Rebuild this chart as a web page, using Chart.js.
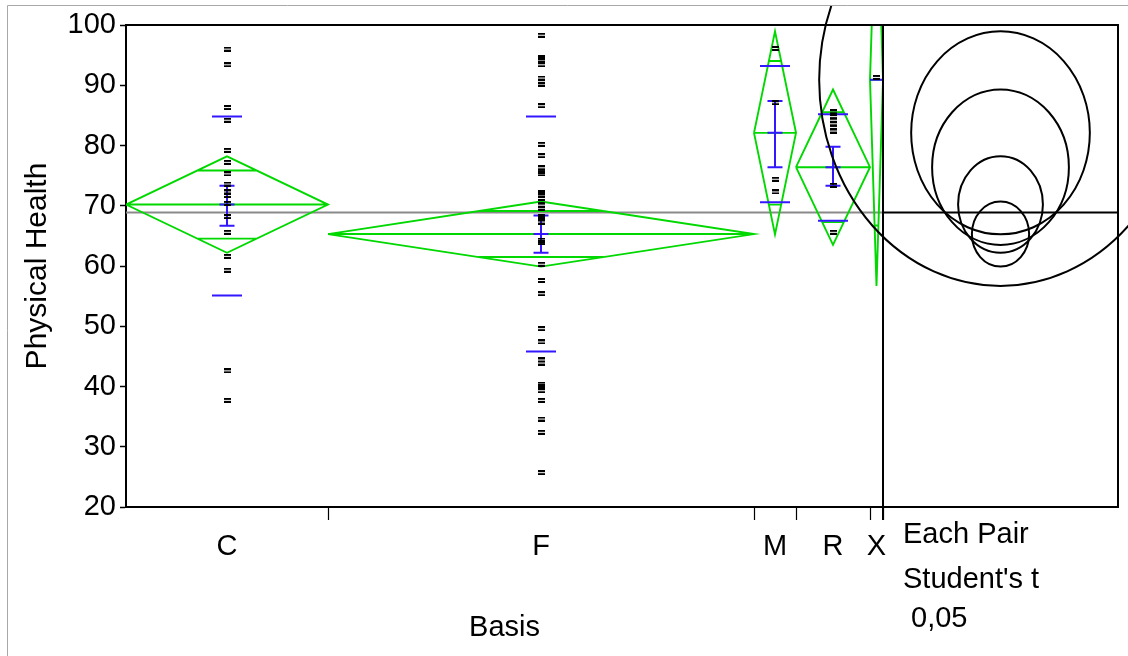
<!DOCTYPE html>
<html>
<head>
<meta charset="utf-8">
<script src="https://cdn.jsdelivr.net/npm/chart.js@4.4.1/dist/chart.umd.min.js"></script>
<style>
  html, body { margin: 0; padding: 0; background: #fff; }
  #wrap { width: 1128px; height: 656px; position: relative; }
</style>
</head>
<body>
<div id="wrap"><canvas id="chart"></canvas></div>
<script>
// Levels of Basis and the relative width of each level's band on the axis
const categories = ['C', 'F', 'M', 'R', 'X'];
const bandWidth = [202, 426, 42, 74, 13];

// Individual Physical Health scores per level
const valuesC = [96.0, 93.4, 86.3, 84.2, 79.2, 77.2, 75.3, 73.6, 72.3, 71.7, 70.4, 68.2, 65.6, 61.6, 59.3, 42.6, 37.7];
const valuesF = [98.3, 94.6, 94.2, 93.4, 91.2, 90.6, 90.2, 86.6, 80.2, 78.3, 76.3, 75.7, 75.3, 72.2, 71.8, 71.2,
                 70.7, 70.1, 69.6, 68.2, 67.9, 67.3, 64.3, 63.9, 60.3, 57.6, 55.4, 49.6, 47.4, 44.4, 43.9, 40.4,
                 40.0, 39.3, 37.7, 34.6, 32.4, 25.7];
const valuesM = [96.1, 87.1, 74.4, 72.3];
const valuesR = [85.6, 84.8, 84.2, 83.6, 83.0, 82.4, 73.4, 65.6];
const valuesX = [91.3];

// Group summaries: mean, 95% CI half width, std error bar ends, mean +/- 1 SD
const groupMean = [70.2, 65.3, 82.1, 76.4, 90.9];
const ciHalf = [8.0, 5.4, 16.85, 12.9, 34.2];
const stdErrLow = [66.7, 62.2, 76.4, 73.3, null];
const stdErrHigh = [73.3, 68.4, 87.4, 79.8, null];
const sdLow = [55.1, 45.8, 70.6, 67.5, null];
const sdHigh = [84.8, 84.8, 93.2, 85.2, null];
const grandMean = 68.9;

const yTicks = [20, 30, 40, 50, 60, 70, 80, 90, 100];
const panelText = ['Each Pair', "Student's t", ' 0,05'];

// ---- derived geometry on the Basis axis ----
const edges = [0];
bandWidth.forEach(w => edges.push(edges[edges.length - 1] + w));
const total = edges[edges.length - 1];
const centers = bandWidth.map((w, i) => edges[i] + w / 2);
const groupValues = [valuesC, valuesF, valuesM, valuesR, valuesX];

const GREEN = '#00d800';
const BLUE = '#3318ff';
const FONT = "'Liberation Sans', Arial, sans-serif";
const FS = 29;

const GAP = { x: null, y: null };
function segs(list) {
  const out = [];
  list.forEach((s, k) => { if (k) out.push(GAP); out.push(...s); });
  return out;
}

// Means diamonds with mean line and overlap marks
const greenSegs = [];
categories.forEach((c, i) => {
  const l = edges[i], r = edges[i + 1], cx = centers[i], m = groupMean[i], h = ciHalf[i];
  greenSegs.push([{x: l, y: m}, {x: cx, y: m + h}, {x: r, y: m}, {x: cx, y: m - h}, {x: l, y: m}]);
  greenSegs.push([{x: l, y: m}, {x: r, y: m}]);
  const k = 1 / Math.SQRT2, hw = (bandWidth[i] / 2) * (1 - k);
  greenSegs.push([{x: cx - hw, y: m + h * k}, {x: cx + hw, y: m + h * k}]);
  greenSegs.push([{x: cx - hw, y: m - h * k}, {x: cx + hw, y: m - h * k}]);
});

// Std dev lines, std error bars and mean ticks
const blueSegs = [];
categories.forEach((c, i) => {
  const cx = centers[i], m = groupMean[i];
  const capHalf = Math.min(7.5, bandWidth[i] / 2);
  if (sdHigh[i] !== null) {
    blueSegs.push([{x: cx - 15, y: sdHigh[i]}, {x: cx + 15, y: sdHigh[i]}]);
    blueSegs.push([{x: cx - 15, y: sdLow[i]}, {x: cx + 15, y: sdLow[i]}]);
  }
  if (stdErrHigh[i] !== null) {
    blueSegs.push([{x: cx, y: stdErrLow[i]}, {x: cx, y: stdErrHigh[i]}]);
    blueSegs.push([{x: cx - capHalf, y: stdErrHigh[i]}, {x: cx + capHalf, y: stdErrHigh[i]}]);
    blueSegs.push([{x: cx - capHalf, y: stdErrLow[i]}, {x: cx + capHalf, y: stdErrLow[i]}]);
  }
  blueSegs.push([{x: cx - capHalf, y: m}, {x: cx + capHalf, y: m}]);
});

// "=" shaped marker for each observation
const mark = document.createElement('canvas');
mark.width = 7; mark.height = 5;
const mg = mark.getContext('2d');
mg.fillStyle = '#000';
mg.fillRect(0, 0, 7, 2);
mg.fillRect(0, 3, 7, 2);

const pointSets = groupValues.map((vals, i) => ({
  data: vals.map(v => ({x: centers[i], y: v})),
  showLine: false,
  pointStyle: mark,
  pointRadius: 3,
  order: 0
}));

const lineDefaults = { showLine: true, pointRadius: 0, fill: false, spanGaps: false, tension: 0 };

// Frame, boundary ticks, comparison circles panel
const PANEL_W = 235;
const CIRCLE_ASPECT = 0.88;
const framePlugin = {
  id: 'frame',
  beforeDraw(chart) {
    const ctx = chart.ctx;
    ctx.save();
    ctx.fillStyle = '#fff';
    ctx.fillRect(0, 0, chart.width, chart.height);
    ctx.strokeStyle = '#a8a8a8';
    ctx.lineWidth = 1;
    ctx.beginPath();
    ctx.moveTo(7.5, chart.height); ctx.lineTo(7.5, 5.5); ctx.lineTo(chart.width, 5.5);
    ctx.stroke();
    ctx.restore();
  },
  afterDatasetsDraw(chart) {
    const ctx = chart.ctx, a = chart.chartArea;
    const xs = chart.scales.x, ys = chart.scales.y;
    const pr = a.right + PANEL_W;
    ctx.save();
    ctx.strokeStyle = '#000';
    ctx.lineWidth = 2;
    ctx.beginPath();
    ctx.moveTo(a.left, a.top); ctx.lineTo(pr, a.top); ctx.lineTo(pr, a.bottom); ctx.lineTo(a.left, a.bottom);
    ctx.stroke();
    // level boundaries on the Basis axis
    ctx.lineWidth = 1.2;
    ctx.beginPath();
    edges.slice(1).forEach(e => {
      const px = Math.round(xs.getPixelForValue(e)) + 0.5;
      ctx.moveTo(px, a.bottom); ctx.lineTo(px, a.bottom + 13);
    });
    ctx.stroke();
    ctx.lineWidth = 2;
    ctx.beginPath();
    ctx.moveTo(a.right, a.top); ctx.lineTo(a.right, a.bottom + 13);
    const gy = ys.getPixelForValue(grandMean);
    ctx.moveTo(a.right, gy); ctx.lineTo(pr, gy);
    ctx.stroke();
    // comparison circles
    ctx.beginPath();
    ctx.rect(8, 6, chart.width - 8, chart.height - 6);
    ctx.clip();
    const cx = a.right + PANEL_W / 2;
    ctx.lineWidth = 2;
    groupMean.forEach((m, i) => {
      const cy = ys.getPixelForValue(m);
      const ry = Math.abs(ys.getPixelForValue(m + ciHalf[i]) - cy);
      ctx.beginPath();
      ctx.ellipse(cx, cy, ry * CIRCLE_ASPECT, ry, 0, 0, Math.PI * 2);
      ctx.stroke();
    });
    ctx.restore();
    // panel caption
    ctx.save();
    ctx.fillStyle = '#000';
    ctx.font = FS + 'px ' + FONT;
    ctx.textBaseline = 'middle';
    ctx.textAlign = 'left';
    const tx = a.right + 20;
    [535, 580, 619].forEach((ty, k) => ctx.fillText(panelText[k], tx, ty));
    ctx.restore();
  }
};

Chart.defaults.font.family = FONT;
Chart.defaults.font.size = FS;
Chart.defaults.color = '#000';

new Chart(document.getElementById('chart'), {
  type: 'scatter',
  data: {
    datasets: [
      Object.assign({ data: [{x: 0, y: grandMean}, {x: total, y: grandMean}], borderColor: '#8a8a8a', borderWidth: 2, order: 3 }, lineDefaults),
      Object.assign({ data: segs(greenSegs), borderColor: GREEN, borderWidth: 1.9, order: 2 }, lineDefaults),
      Object.assign({ data: segs(blueSegs), borderColor: BLUE, borderWidth: 2, order: 1 }, lineDefaults),
      ...pointSets
    ]
  },
  options: {
    responsive: true,
    maintainAspectRatio: false,
    animation: false,
    events: [],
    layout: { padding: { top: 25, right: 245, bottom: 0, left: 0 } },
    plugins: { legend: { display: false }, tooltip: { enabled: false } },
    scales: {
      x: {
        type: 'linear',
        min: 0,
        max: total,
        afterBuildTicks(axis) { axis.ticks = centers.map(v => ({ value: v })); },
        afterFit(axis) { axis.height = 149; },
        ticks: { autoSkip: false, maxRotation: 0, padding: 23, callback: (v, i) => categories[i] },
        grid: { drawOnChartArea: false, drawTicks: false },
        border: { display: false },
        title: { display: true, text: 'Basis', padding: { top: 0, bottom: 11 } }
      },
      y: {
        min: 20,
        max: 100,
        afterBuildTicks(axis) { axis.ticks = yTicks.map(v => ({ value: v })); },
        afterFit(axis) { axis.width = 126; },
        ticks: { padding: 4 },
        grid: { drawOnChartArea: false, tickLength: 6, tickColor: '#000', tickWidth: 1.5 },
        border: { color: '#000', width: 2 },
        title: { display: true, text: 'Physical Health', font: { size: 30 }, padding: { top: 20, bottom: 0 } }
      }
    }
  },
  plugins: [framePlugin]
});
</script>
</body>
</html>
